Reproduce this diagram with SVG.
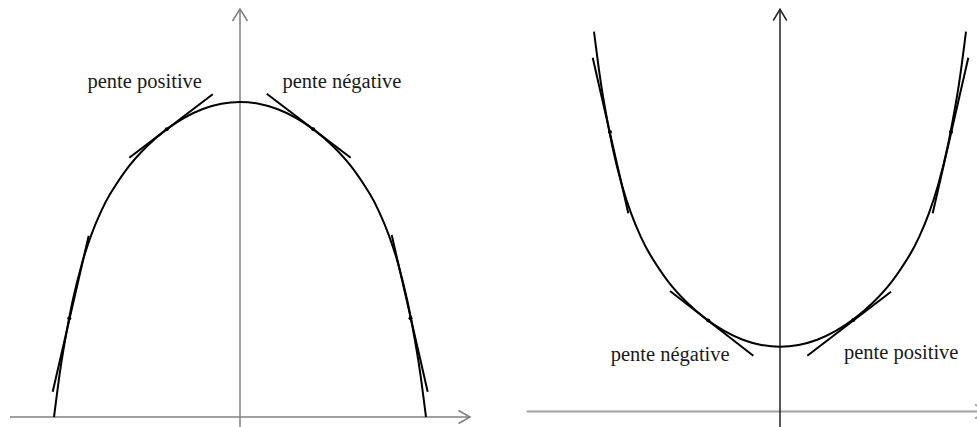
<svg xmlns="http://www.w3.org/2000/svg" width="977" height="427" viewBox="0 0 977 427">
<style>
.axis{fill:none;stroke:#808080;stroke-width:1.5}
.axisk{fill:none;stroke:#222;stroke-width:1.5}
.axisw{fill:none;stroke:#a0a0a0;stroke-width:2}
.curve{fill:none;stroke:#000;stroke-width:2;stroke-linejoin:round}
.tan{fill:none;stroke:#000;stroke-width:2}
.dot{fill:#000}
.lbl{font-family:"Liberation Serif","Times New Roman",serif;font-size:20.5px;fill:#1a1a1a}
</style>
<rect width="977" height="427" fill="#fff"/>
<g id="left-panel">
  <g id="left-axes">
    <line class="axis" x1="240" y1="9" x2="240" y2="427"/>
    <polyline class="axis" points="232.5,21 240,9 247.5,21"/>
    <line class="axis" x1="10" y1="417" x2="470" y2="417"/>
    <polyline class="axis" points="458.5,410.5 470,417 458.5,423.5"/>
  </g>
  <g id="left-curve">
    <path id="cap" class="curve" d="M54,417 C55.55,405.07 57.1,392.28 58.65,381.2 C60.2,370.12 60.975,363.87 63.3,350.5 C65.625,337.13 69.5,315.47 72.6,301 C75.7,286.53 78.8,274.65 81.9,263.66 C85,252.67 88.1,243.58 91.2,235.08 C94.3,226.58 97.4,219.39 100.5,212.64 C103.6,205.89 105.15,202.19 109.8,194.56 C114.45,186.93 122.2,174.94 128.4,166.87 C134.6,158.8 140.8,152.3 147,146.17 C153.2,140.04 159.4,134.81 165.6,130.08 C171.8,125.35 178,121.28 184.2,117.77 C190.4,114.26 196.6,111.34 202.8,109 C209,106.66 215.2,104.92 221.4,103.75 C227.6,102.58 233.8,102 240,102 C246.2,102 252.4,102.58 258.6,103.75 C264.8,104.92 271,106.66 277.2,109 C283.4,111.34 289.6,114.26 295.8,117.77 C302,121.28 308.2,125.35 314.4,130.08 C320.6,134.81 326.8,140.04 333,146.17 C339.2,152.3 345.4,158.8 351.6,166.87 C357.8,174.94 365.55,186.93 370.2,194.56 C374.85,202.19 376.4,205.89 379.5,212.64 C382.6,219.39 385.7,226.58 388.8,235.08 C391.9,243.58 395,252.67 398.1,263.66 C401.2,274.65 404.3,286.53 407.4,301 C410.5,315.47 414.375,337.13 416.7,350.5 C419.025,363.87 419.8,370.12 421.35,381.2 C422.9,392.28 424.45,405.07 426,417"/>
  </g>
  <g id="left-tangents">
    <line class="tan" x1="129.3" y1="157.7" x2="212.7" y2="94.3"/>
    <line class="tan" x1="266.7" y1="93.7" x2="350.7" y2="157.7"/>
    <line class="tan" x1="88.7" y1="235.7" x2="52.7" y2="391.7"/>
    <line class="tan" x1="391.7" y1="235" x2="427.7" y2="391.7"/>
    <circle class="dot" cx="166.7" cy="129.3" r="2"/>
    <circle class="dot" cx="313.3" cy="129.3" r="2"/>
    <circle class="dot" cx="69.3" cy="318.3" r="2"/>
    <circle class="dot" cx="410.5" cy="318.3" r="2"/>
  </g>
  <text class="lbl" x="87.5" y="88">pente positive</text>
  <text class="lbl" x="282.5" y="88">pente négative</text>
</g>
<g id="right-panel">
  <g id="right-axes">
    <line class="axisw" x1="526.7" y1="411.5" x2="977" y2="411.5"/>
    <polyline class="axisw" points="975,404.5 987,411.5 975,418.5"/>
    <line class="axisk" x1="780" y1="9.3" x2="780" y2="427"/>
    <polyline class="axisk" points="773.3,20.5 780,9.3 786.7,20.5"/>
  </g>
  <g id="right-curve">
    <path class="curve" transform="translate(540,448.7) scale(1,-1)" d="M54,417 C55.55,405.07 57.1,392.28 58.65,381.2 C60.2,370.12 60.975,363.87 63.3,350.5 C65.625,337.13 69.5,315.47 72.6,301 C75.7,286.53 78.8,274.65 81.9,263.66 C85,252.67 88.1,243.58 91.2,235.08 C94.3,226.58 97.4,219.39 100.5,212.64 C103.6,205.89 105.15,202.19 109.8,194.56 C114.45,186.93 122.2,174.94 128.4,166.87 C134.6,158.8 140.8,152.3 147,146.17 C153.2,140.04 159.4,134.81 165.6,130.08 C171.8,125.35 178,121.28 184.2,117.77 C190.4,114.26 196.6,111.34 202.8,109 C209,106.66 215.2,104.92 221.4,103.75 C227.6,102.58 233.8,102 240,102 C246.2,102 252.4,102.58 258.6,103.75 C264.8,104.92 271,106.66 277.2,109 C283.4,111.34 289.6,114.26 295.8,117.77 C302,121.28 308.2,125.35 314.4,130.08 C320.6,134.81 326.8,140.04 333,146.17 C339.2,152.3 345.4,158.8 351.6,166.87 C357.8,174.94 365.55,186.93 370.2,194.56 C374.85,202.19 376.4,205.89 379.5,212.64 C382.6,219.39 385.7,226.58 388.8,235.08 C391.9,243.58 395,252.67 398.1,263.66 C401.2,274.65 404.3,286.53 407.4,301 C410.5,315.47 414.375,337.13 416.7,350.5 C419.025,363.87 419.8,370.12 421.35,381.2 C422.9,392.28 424.45,405.07 426,417"/>
  </g>
  <g id="right-tangents">
    <line class="tan" x1="592.7" y1="57.7" x2="628.3" y2="213.3"/>
    <line class="tan" x1="670" y1="291" x2="753.3" y2="355.7"/>
    <line class="tan" x1="807.3" y1="355.7" x2="891" y2="291.7"/>
    <line class="tan" x1="932.7" y1="213.3" x2="968.3" y2="57.7"/>
    <circle class="dot" cx="610" cy="132" r="2"/>
    <circle class="dot" cx="708.3" cy="320.5" r="2"/>
    <circle class="dot" cx="853.3" cy="320" r="2"/>
    <circle class="dot" cx="951" cy="132" r="2"/>
  </g>
  <text class="lbl" x="610.7" y="360.5">pente négative</text>
  <text class="lbl" x="844" y="358.5">pente positive</text>
</g>
</svg>
